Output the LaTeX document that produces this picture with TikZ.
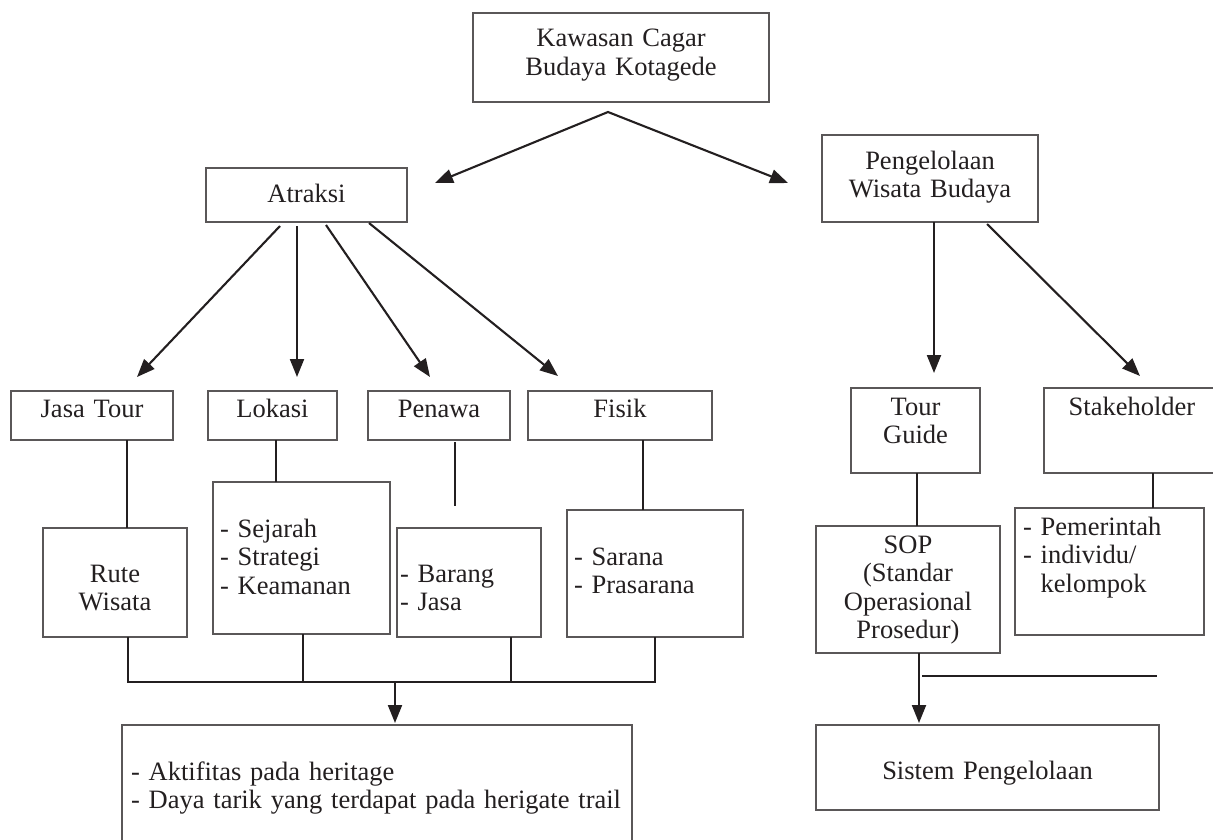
\documentclass[tikz,border=0pt]{standalone}
\usepackage{fontspec}
\setmainfont{Liberation Serif}
\usetikzlibrary{arrows.meta,calc}
\definecolor{tinta}{HTML}{231F20}
\tikzset{
  kotak/.style={draw=tinta!75, line width=1.1pt, inner sep=0pt, outer sep=0pt,
    anchor=north west, align=center, text=tinta,
    font=\fontsize{26.5}{28.5}\selectfont},
  kiri/.style={align=left, inner xsep=#1},
  garis/.style={draw=tinta, line width=2.1pt},
  panah/.style={garis, -{Triangle[length=18pt,width=14pt]}},
  panahdua/.style={garis, {Triangle[length=18pt,width=14pt]}-{Triangle[length=18pt,width=14pt]}},
}

\begin{document}
\begin{tikzpicture}[x=1pt,y=-1pt]
\useasboundingbox (0,0) rectangle (1213,840);
% baris atas
\node[kotak, text width=296pt, text height=34pt, text depth=55pt] (kawasan) at (473,13) {Kawasan Cagar\\Budaya Kotagede};
\node[kotak, text width=201pt, text height=34pt, text depth=20pt] (atraksi) at (206,168) {Atraksi};
\node[kotak, text width=216pt, text height=34pt, text depth=53pt] (kelola) at (822,135) {Pengelolaan\\Wisata Budaya};
% komponen atraksi
\node[kotak, text width=162pt, text height=26pt, text depth=23pt] (jasa) at (11,391) {Jasa Tour};
\node[kotak, text width=129pt, text height=26pt, text depth=23pt] (lokasi) at (208,391) {Lokasi};
\node[kotak, text width=142pt, text height=26pt, text depth=23pt] (penawa) at (368,391) {Penawa};
\node[kotak, text width=184pt, text height=26pt, text depth=23pt] (fisik) at (528,391) {Fisik};
\node[kotak, text width=144pt, text height=54pt, text depth=55pt] (rute) at (43,528) {Rute\\Wisata};
\node[kotak, kiri=7pt, text width=163pt, text height=55pt, text depth=97pt] (lokasiisi) at (213,482) {- Sejarah\\- Strategi\\- Keamanan};
\node[kotak, kiri=3pt, text width=138pt, text height=54pt, text depth=55pt] (penawaisi) at (397,528) {- Barang\\- Jasa};
\node[kotak, kiri=7pt, text width=162pt, text height=55pt, text depth=72pt] (fisikisi) at (567,510) {- Sarana\\- Prasarana};
\node[kotak, kiri=9pt, text width=492pt, text height=55pt, text depth=66pt] (hasil) at (122,725) {- Aktifitas pada heritage\\- Daya tarik yang terdapat pada herigate trail};
% komponen pengelolaan
\node[kotak, text width=129pt, text height=27pt, text depth=58pt] (tour) at (851,388) {Tour\\Guide};
\node[kotak, text width=176pt, text height=27pt, text depth=58pt] (stake) at (1044,388) {Stakeholder};
\node[kotak, text width=184pt, text height=27pt, text depth=100pt] (sop) at (816,526) {SOP\\(Standar\\Operasional\\Prosedur)};
\node[kotak, kiri=8pt, text width=173pt, text height=27pt, text depth=100pt] (pemerintah) at (1015,508) {- Pemerintah\\- individu/\\\hphantom{- }kelompok};
\node[kotak, text width=343pt, text height=54pt, text depth=31pt] (sistem) at (816,725) {Sistem Pengelolaan};

% panah dari kawasan
\coordinate (puncak) at ([xshift=-13pt,yshift=-10pt]kawasan.south);
\draw[panahdua] ([xshift=28pt,yshift=-15pt]atraksi.north east) -- (puncak) -- ([xshift=-34pt,yshift=-4.5pt]kelola.west);
% panah dari atraksi
\draw[panah] ([xshift=-26.5pt,yshift=-4pt]atraksi.south) -- ([xshift=45pt,yshift=14pt]jasa.north);
\draw[panah] ([xshift=-9.5pt,yshift=-4pt]atraksi.south) -- ([xshift=24.5pt,yshift=14pt]lokasi.north);
\draw[panah] ([xshift=19.5pt,yshift=-3pt]atraksi.south) -- ([xshift=-9pt,yshift=14pt]penawa.north);
\draw[panah] ([xshift=62.5pt,yshift=-1pt]atraksi.south) -- ([xshift=-62pt,yshift=15pt]fisik.north);
% panah dari pengelolaan
\draw[panah] ([xshift=4pt]kelola.south) -- ([xshift=18.5pt,yshift=15pt]tour.north);
\draw[panah] ([xshift=57pt,yshift=-2pt]kelola.south) -- ([xshift=8pt,yshift=12pt]stake.north);

% garis ke isi
\draw[garis] ([xshift=12pt]rute.north) -- ++(0,-88);
\draw[garis] ([xshift=-25.5pt]lokasiisi.north) -- ++(0,-42);
\coordinate (penawaujung) at ([xshift=16pt,yshift=-66pt]penawa.south);
\draw[garis] ([xshift=16pt,yshift=-2pt]penawa.south) -- (penawaujung);
\draw[garis] ([xshift=-12pt]fisikisi.north) -- ++(0,-70);
\draw[garis] ([xshift=9pt]sop.north) -- ++(0,-53);
\draw[garis] ([xshift=43.5pt]pemerintah.north) -- ++(0,-35);

% gabungan bawah kiri
\coordinate (gabung) at ([xshift=13pt,yshift=-45pt]rute.south);
\draw[garis] ([xshift=13pt]rute.south) -- (gabung) -| (fisikisi.south);
\draw[garis] ([xshift=1.5pt]lokasiisi.south) -- ++(0,48);
\draw[garis] ([xshift=42pt]penawaisi.south) -- ++(0,45);
\draw[panah] ([xshift=-260pt]fisikisi.south |- gabung) -- ([xshift=18pt,yshift=2pt]hasil.north);

% bawah kanan
\draw[panah] ([xshift=11pt]sop.south) -- ([xshift=-68.5pt,yshift=2pt]sistem.north);
\coordinate (garisujung) at ([xshift=249pt,yshift=-23pt]sop.south);
\draw[garis] ([xshift=14pt,yshift=-23pt]sop.south) -- (garisujung);
\end{tikzpicture}
\end{document}
